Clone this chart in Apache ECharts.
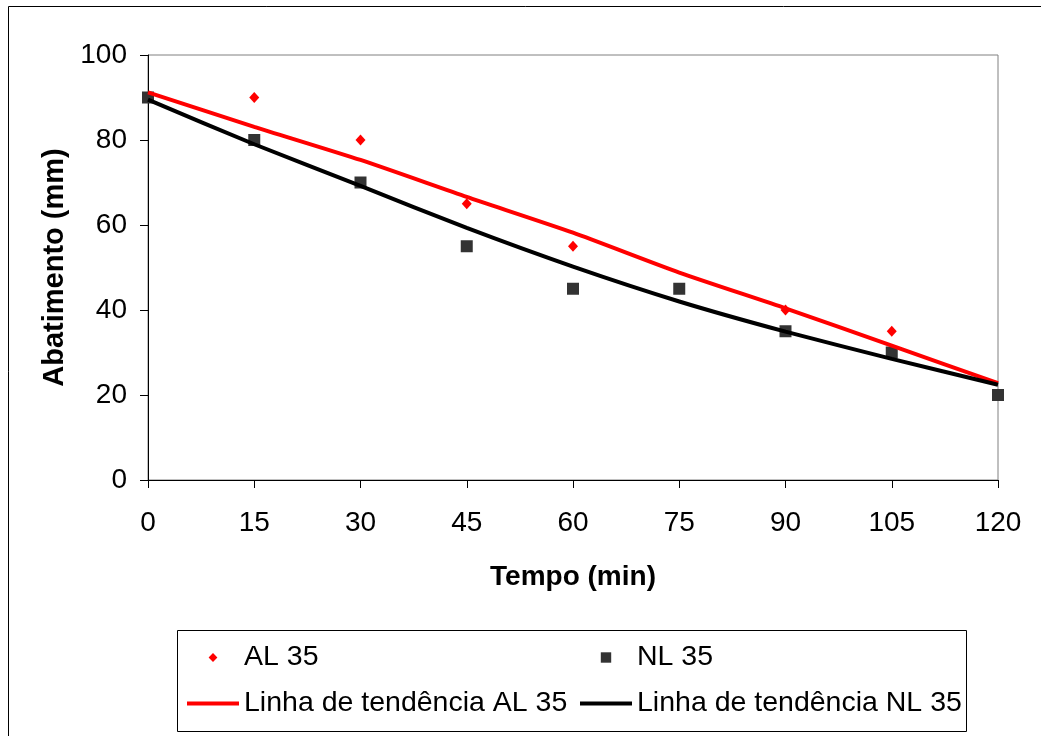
<!DOCTYPE html>
<html>
<head>
<meta charset="utf-8">
<script src="https://cdn.jsdelivr.net/npm/echarts@6/dist/echarts.min.js"></script>
<style>
html,body{margin:0;padding:0;background:#fff;}
#chart{width:1041px;height:736px;}
</style>
</head>
<body>
<div id="chart"></div>
<script>
// ---- data ----
var times = [0, 15, 30, 45, 60, 75, 90, 105, 120];
var al35 = [90, 90, 80, 65, 55, 45, 40, 35, 20];
var nl35 = [90, 80, 70, 55, 45, 45, 35, 30, 20];
var trendAL = [91.2, 83.1, 75.3, 66.6, 58.2, 48.8, 40.4, 31.6, 22.8];
var trendNL = [89.5, 79.0, 69.2, 59.3, 50.2, 42.0, 34.9, 28.5, 22.4];
var xTicks = { min: 0, max: 120, interval: 15 };
var yTicks = { min: 0, max: 100, interval: 20 };
var names = ['AL 35', 'NL 35', 'Linha de tendência AL 35', 'Linha de tendência NL 35'];
var xTitle = 'Tempo (min)';
var yTitle = 'Abatimento (mm)';

function pairs(xs, ys) { return xs.map(function (x, i) { return [x, ys[i]]; }); }

var FONT = "'Liberation Sans', Arial, sans-serif";
var chart = echarts.init(document.getElementById('chart'), null, { renderer: 'canvas' });

function legendAt(name, left, top, h) {
  var o = {
    data: [name], left: left, top: top, orient: 'horizontal', padding: 0,
    itemWidth: 52, itemHeight: h, selectedMode: false,
    textStyle: { fontFamily: FONT, fontSize: 28.5, color: '#000', lineHeight: 28 }
  };
  return o;
}

var option = {
  backgroundColor: '#fff',
  animation: false,
  graphic: [
    { type: 'rect', shape: { x: 8.5, y: 6.5, width: 1100, height: 800 }, style: { fill: 'none', stroke: '#000', lineWidth: 1 }, silent: true, z: -10 },
    { type: 'rect', shape: { x: 177.5, y: 630.5, width: 789, height: 101 }, style: { fill: 'none', stroke: '#000', lineWidth: 1 }, silent: true, z: -5 }
  ],
  grid: { left: 148, top: 55, right: 43, bottom: 256, show: true, borderColor: '#808080', borderWidth: 1, backgroundColor: '#fff' },
  xAxis: {
    type: 'value', min: xTicks.min, max: xTicks.max, interval: xTicks.interval,
    name: xTitle, nameLocation: 'middle', nameGap: 83,
    nameTextStyle: { fontFamily: FONT, fontSize: 28, fontWeight: 'bold', color: '#000' },
    axisLine: { show: true, onZero: false, lineStyle: { color: '#000', width: 1 } },
    axisTick: { show: true, length: 8, inside: false, lineStyle: { color: '#000' } },
    axisLabel: { fontFamily: FONT, fontSize: 28, color: '#000', margin: 29 },
    splitLine: { show: false }
  },
  yAxis: {
    type: 'value', min: yTicks.min, max: yTicks.max, interval: yTicks.interval,
    name: yTitle, nameLocation: 'middle', nameGap: 78, nameRotate: 90,
    nameTextStyle: { fontFamily: FONT, fontSize: 29, fontWeight: 'bold', color: '#000' },
    axisLine: { show: true, onZero: false, lineStyle: { color: '#000', width: 1 } },
    axisTick: { show: true, length: 8, inside: false, lineStyle: { color: '#000' } },
    axisLabel: { fontFamily: FONT, fontSize: 28, color: '#000', margin: 21 },
    splitLine: { show: false }
  },
  legend: [
    legendAt(names[0], 187, 643, 11),
    legendAt(names[1], 580, 643, 13),
    Object.assign(legendAt(names[2], 187, 689, 4), { data: [{ name: names[2], icon: 'rect' }] }),
    Object.assign(legendAt(names[3], 580, 689, 4), { data: [{ name: names[3], icon: 'rect' }] })
  ],
  series: [
    {
      name: names[0], type: 'line', data: pairs(times, al35),
      symbol: 'diamond', symbolSize: [10, 11], showSymbol: true,
      itemStyle: { color: '#ff0000' },
      lineStyle: { color: 'rgba(0,0,0,0)', width: 0 },
      z: 3
    },
    {
      name: names[1], type: 'line', data: pairs(times, nl35),
      symbol: 'rect', symbolSize: 12, showSymbol: true,
      itemStyle: { color: '#333333' },
      lineStyle: { color: 'rgba(0,0,0,0)', width: 0 },
      z: 3
    },
    {
      name: names[2], type: 'line', data: pairs(times, trendAL),
      symbol: 'none', smooth: 0.2,
      itemStyle: { color: '#ff0000' },
      lineStyle: { color: '#ff0000', width: 4 },
      z: 4
    },
    {
      name: names[3], type: 'line', data: pairs(times, trendNL),
      symbol: 'none', smooth: 0.2,
      itemStyle: { color: '#000000' },
      lineStyle: { color: '#000000', width: 4 },
      z: 4
    }
  ]
};
chart.setOption(option);
</script>
</body>
</html>
